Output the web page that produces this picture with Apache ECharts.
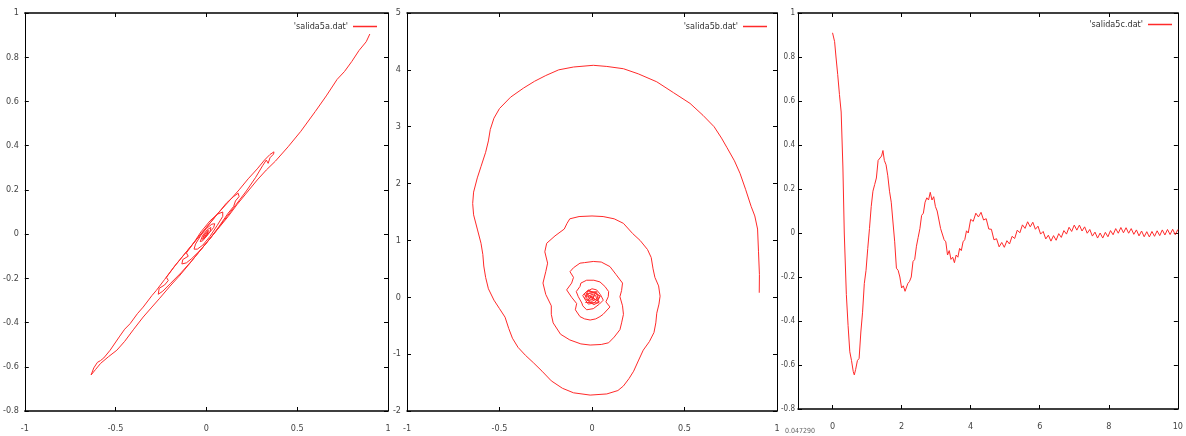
<!DOCTYPE html>
<html><head><meta charset="utf-8">
<script src="https://cdn.jsdelivr.net/npm/echarts@6/dist/echarts.min.js"></script>
<style>html,body{margin:0;padding:0;background:#fff}#c{width:1186px;height:436px}</style>
</head><body><div id="c"></div>
<script>
const seriesNames = ["'salida5a.dat'", "'salida5b.dat'", "'salida5c.dat'"];
const xTicksA = [-1, -0.5, 0, 0.5, 1];
const yTicksA = [-0.8, -0.6, -0.4, -0.2, 0, 0.2, 0.4, 0.6, 0.8, 1];
const xTicksB = [-1, -0.5, 0, 0.5, 1];
const yTicksB = [-2, -1, 0, 1, 2, 3, 4, 5];
const xTicksC = [0, 2, 4, 6, 8, 10];
const yTicksC = [-0.8, -0.6, -0.4, -0.2, 0, 0.2, 0.4, 0.6, 0.8, 1];
const xRangeC = [-1, 10];
const strayNote = '0.047290';

// panel a: delayed phase plot
const pointsA = [
[0.9,0.905],[0.905,0.91],[0.91,0.9],[0.88,0.87],[0.84,0.83],[0.8,0.78],[0.76,0.735],[0.72,0.7],[0.66,0.625],[0.6,0.555],[0.52,0.465],[0.45,0.395],[0.38,0.33],[0.33,0.29],[0.28,0.245],[0.23,0.195],[0.17,0.135],[0.12,0.08],[0.06,0.02],[0,-0.04],[-0.05,-0.09],[-0.094,-0.135],[-0.15,-0.19],[-0.2,-0.235],[-0.257,-0.29],[-0.3,-0.33],[-0.348,-0.375],[-0.4,-0.43],[-0.45,-0.485],[-0.493,-0.525],[-0.54,-0.555],[-0.583,-0.585],[-0.61,-0.612],[-0.635,-0.637],[-0.645,-0.645],
[-0.64,-0.635],[-0.62,-0.605],[-0.6,-0.58],[-0.583,-0.572],[-0.565,-0.56],[-0.53,-0.525],[-0.48,-0.465],[-0.45,-0.43],[-0.42,-0.405],[-0.38,-0.36],[-0.348,-0.33],[-0.3,-0.278],[-0.276,-0.255],[-0.23,-0.205],[-0.18,-0.15],[-0.12,-0.09],[-0.06,-0.03],[0,0.03],[0.06,0.09],[0.12,0.145],[0.18,0.2],[0.23,0.25],[0.28,0.295],[0.32,0.335],[0.35,0.36],[0.372,0.372],[0.377,0.375],
[0.37,0.362],[0.35,0.345],[0.34,0.32],[0.33,0.335],[0.31,0.31],[0.27,0.255],[0.22,0.195],[0.16,0.13],[0.1,0.065],[0.04,0.0],[-0.02,-0.06],[-0.08,-0.12],[-0.14,-0.175],[-0.2,-0.225],[-0.24,-0.258],[-0.265,-0.272],[-0.27,-0.265],
[-0.26,-0.245],[-0.23,-0.23],[-0.21,-0.21],[-0.22,-0.195],[-0.17,-0.14],[-0.12,-0.09],[-0.06,-0.03],[0,0.03],[0.06,0.09],[0.11,0.14],[0.15,0.17],[0.175,0.185],[0.185,0.182],
[0.18,0.17],[0.16,0.15],[0.15,0.125],[0.12,0.095],[0.07,0.035],[0.02,-0.02],[-0.03,-0.07],[-0.08,-0.11],[-0.11,-0.13],[-0.135,-0.135],
[-0.13,-0.115],[-0.1,-0.1],[-0.11,-0.085],[-0.07,-0.04],[-0.03,0.01],[0.02,0.06],[0.06,0.09],[0.09,0.1],[0.1,0.1],
[0.09,0.08],[0.06,0.04],[0.02,-0.01],[-0.02,-0.05],[-0.05,-0.068],[-0.068,-0.068],
[-0.06,-0.045],[-0.03,-0.005],[0,0.025],[0.03,0.045],[0.046,0.047],[0.04,0.03],[0.01,0.0],[-0.02,-0.03],[-0.034,-0.034],[-0.02,-0.005],[0.005,0.02],[0.025,0.03],[0.02,0.012],[-0.005,-0.015],[-0.022,-0.024],[-0.012,-0.002],[0.01,0.018],[0.02,0.02],[0.005,-0.003],[-0.015,-0.018],[-0.01,-0.002],[0.01,0.012],[0.005,0.0],[-0.008,-0.01],[0.002,0.004]
];

// panel b: phase-space spiral
const pointsB = [
[0.904,0.08],[0.905,0.4],[0.9,0.8],[0.895,1.2],[0.88,1.43],[0.86,1.6],[0.83,1.9],[0.8,2.18],[0.77,2.4],[0.73,2.63],[0.7,2.8],[0.66,3.0],[0.6,3.2],[0.53,3.41],[0.44,3.6],[0.35,3.79],[0.25,3.93],[0.17,4.02],[0.08,4.06],[0.007,4.08],[-0.1,4.05],[-0.18,4.0],[-0.25,3.9],[-0.31,3.8],[-0.37,3.68],[-0.44,3.52],[-0.5,3.32],[-0.53,3.15],[-0.55,2.95],[-0.56,2.75],[-0.575,2.55],[-0.6,2.3],[-0.62,2.1],[-0.64,1.85],[-0.645,1.65],[-0.64,1.45],[-0.62,1.2],[-0.6,0.95],[-0.59,0.75],[-0.585,0.55],[-0.575,0.35],[-0.56,0.15],[-0.53,-0.05],[-0.5,-0.2],[-0.47,-0.35],[-0.45,-0.55],[-0.43,-0.72],[-0.4,-0.88],[-0.36,-1.02],[-0.317,-1.15],[-0.27,-1.3],[-0.22,-1.47],[-0.16,-1.6],[-0.1,-1.68],[-0.01,-1.72],[0.08,-1.7],[0.14,-1.64],[0.17,-1.56],[0.2,-1.43],[0.225,-1.3],[0.25,-1.12],[0.277,-0.93],[0.31,-0.78],[0.335,-0.62],[0.345,-0.45],[0.35,-0.28],[0.362,-0.12],[0.368,0.02],[0.36,0.2],[0.34,0.35],[0.33,0.5],[0.32,0.7],[0.3,0.84],[0.26,1.0],[0.22,1.12],[0.17,1.3],[0.12,1.38],[0.06,1.42],[0.0,1.43],[-0.07,1.42],[-0.12,1.38],[-0.135,1.3],[-0.15,1.2],[-0.2,1.08],[-0.245,0.95],[-0.255,0.8],[-0.24,0.6],[-0.25,0.45],[-0.265,0.25],[-0.25,0.05],[-0.22,-0.15],[-0.22,-0.3],[-0.21,-0.45],[-0.17,-0.65],[-0.12,-0.75],[-0.06,-0.82],[-0.01,-0.84],[0.05,-0.83],[0.09,-0.8],[0.12,-0.7],[0.151,-0.57],[0.16,-0.45],[0.17,-0.3],[0.165,-0.15],[0.151,0.01],[0.16,0.12],[0.165,0.25],[0.13,0.4],[0.097,0.54],[0.05,0.62],[0.007,0.63],[-0.04,0.61],[-0.065,0.6],[-0.1,0.52],[-0.119,0.45],[-0.1,0.35],[-0.11,0.25],[-0.137,0.13],[-0.11,0.0],[-0.083,-0.11],[-0.09,-0.22],[-0.065,-0.34],[-0.04,-0.38],[-0.01,-0.4],[0.02,-0.38],[0.043,-0.34],[0.06,-0.3],[0.097,-0.17],[0.075,-0.08],[0.088,0.01],[0.09,0.1],[0.07,0.19],[0.043,0.27],[0.01,0.3],[-0.029,0.3],[-0.06,0.25],[-0.065,0.19],[-0.085,0.1],[-0.074,0.01],[-0.055,-0.1],[-0.05,-0.15],[-0.029,-0.22],[0.007,-0.2],[0.04,-0.12],[0.061,-0.05],[0.045,0.05],[0.025,0.13],[0,0.15],[-0.03,0.1],[-0.05,0.03],[-0.035,-0.05],[-0.02,-0.12],[0.01,-0.1],[0.035,-0.03],[0.04,0.03],[0.015,0.08],[-0.015,0.07],[-0.03,0.02],[-0.025,-0.05],[0,-0.07],[0.025,-0.03],[0.02,0.03],[0,0.05],[-0.02,0.02],[-0.015,-0.03],[0.005,-0.04],[0.015,-0.01],[0.01,0.02],[-0.01,0.02],[-0.01,-0.01],[0.005,-0.02],[0.008,0.005],[-0.005,0.01],[-0.003,-0.005],
[0.02,0.09],[-0.025,0.11],[-0.045,0.05],[0.03,-0.06],[0.045,0.02],[-0.02,0.13],[-0.04,-0.02],[0.01,-0.13],[0.04,-0.08],[-0.03,0.06],[0.025,0.1],[0.035,-0.1],[-0.035,-0.09],[0.0,0.02]
];

// panel c: time series
const pointsC = [
[0,0.91],[0.03,0.905],[0.06,0.87],[0.1,0.8],[0.15,0.72],[0.2,0.63],[0.25,0.55],[0.3,0.3],[0.34,0.0],[0.4,-0.28],[0.45,-0.42],[0.5,-0.54],[0.55,-0.58],[0.6,-0.63],[0.63,-0.645],[0.67,-0.62],[0.72,-0.58],[0.77,-0.57],[0.82,-0.45],[0.87,-0.36],[0.92,-0.23],[0.97,-0.17],[1.02,-0.07],[1.07,0.02],[1.12,0.12],[1.17,0.19],[1.22,0.22],[1.27,0.25],[1.32,0.33],[1.37,0.33],[1.42,0.35],[1.46,0.375],[1.5,0.33],[1.55,0.31],[1.6,0.26],[1.65,0.19],[1.7,0.14],[1.75,0.05],[1.8,-0.04],[1.85,-0.16],[1.9,-0.17],[1.95,-0.2],[2.0,-0.25],[2.05,-0.24],[2.1,-0.265],[2.13,-0.27],[2.18,-0.23],[2.23,-0.22],[2.28,-0.2],[2.33,-0.13],[2.38,-0.12],[2.43,-0.06],[2.48,-0.02],[2.53,0.02],[2.58,0.08],[2.63,0.09],[2.68,0.14],[2.73,0.16],[2.78,0.15],[2.83,0.185],[2.88,0.15],[2.93,0.165],[2.98,0.12],[3.03,0.1],[3.08,0.1],[3.13,0.02],[3.18,0.02],[3.23,-0.03],[3.28,-0.04],[3.33,-0.1],[3.38,-0.08],[3.43,-0.12],[3.48,-0.11],[3.53,-0.135],[3.58,-0.1],[3.63,-0.11],[3.68,-0.07],[3.73,-0.08],[3.78,-0.04],[3.83,-0.03],[3.88,0.01],[3.93,0.0],
[4.0,0.062],[4.075,0.053],[4.15,0.09],[4.225,0.073],[4.3,0.094],[4.375,0.059],[4.45,0.065],[4.525,0.018],[4.6,0.017],[4.675,-0.031],[4.75,-0.026],[4.825,-0.063],[4.9,-0.043],[4.975,-0.065],[5.05,-0.035],[5.125,-0.05],[5.2,-0.015],[5.275,-0.025],[5.35,0.013],[5.425,0.001],[5.5,0.037],[5.575,0.021],[5.65,0.051],[5.725,0.028],[5.8,0.049],[5.875,0.017],[5.95,0.031],[6.025,-0.005],[6.1,0.007],[6.175,-0.027],[6.25,-0.01],[6.325,-0.037],[6.4,-0.012],[6.475,-0.033],[6.55,-0.003],[6.625,-0.02],[6.7,0.011],[6.775,-0.005],[6.85,0.026],[6.925,0.007],[7.0,0.036],[7.075,0.013],[7.15,0.036],[7.225,0.009],[7.3,0.028],[7.375,-0.001],[7.45,0.016],[7.525,-0.014],[7.6,0.004],[7.675,-0.023],[7.75,0],[7.825,-0.023],[7.9,0.003],[7.975,-0.017],[8.05,0.011],[8.125,-0.008],[8.2,0.02],[8.275,-0.001],[8.35,0.025],[8.425,0.001],[8.5,0.024],[8.575,-0.001],[8.65,0.02],[8.725,-0.006],[8.8,0.014],[8.875,-0.013],[8.95,0.009],[9.025,-0.017],[9.1,0.006],[9.175,-0.018],[9.25,0.007],[9.325,-0.015],[9.4,0.01],[9.475,-0.012],[9.55,0.014],[9.625,-0.009],[9.7,0.016],[9.775,-0.007],[9.85,0.017],[9.925,-0.008],[10.0,0.016]
];

const FONT = "'Liberation Sans Narrow','DejaVu Sans Condensed','Liberation Sans',sans-serif";
const LABEL = '#444';
const RED = '#ff2a2a';

const grids = [
  {left: 20, top: 13, width: 368, height: 398},
  {left: 407, top: 13, width: 370, height: 398},
  {left: 798, top: 13, width: 386, height: 396}
];
const yLabelSize = [9, 9, 8];
const yLabelMargin = [6, 6, 3];

function fmt(v){ return String(Math.round(v * 10000) / 10000); }
function axLine(w){ return {show: true, onZero: false, lineStyle: {color: '#000', width: w}}; }
function tick(){ return {show: true, inside: true, length: 4, lineStyle: {color: '#000', width: 1}}; }

const xAxes = [], yAxes = [];
function addX(gi, ticks, range, custom){
  const min = range ? range[0] : ticks[0], max = range ? range[1] : ticks[ticks.length - 1];
  const base = {type: 'value', gridIndex: gi, min: min, max: max, splitLine: {show: false}};
  if (!custom) base.interval = ticks[1] - ticks[0];
  const tk = tick(); if (custom) tk.customValues = ticks;
  const lb = {show: true, color: LABEL, fontSize: 9, fontFamily: FONT, margin: 13, formatter: fmt};
  if (custom) lb.customValues = ticks;
  xAxes.push(Object.assign({}, base, {position: 'bottom', axisLine: axLine(1.5), axisTick: tk, axisLabel: lb}));
  const tk2 = tick(); if (custom) tk2.customValues = ticks;
  xAxes.push(Object.assign({}, base, {position: 'top', axisLine: axLine(1.5), axisTick: tk2, axisLabel: {show: false}}));
}
function addY(gi, ticks){
  const base = {type: 'value', gridIndex: gi, min: ticks[0], max: ticks[ticks.length - 1], interval: ticks[1] - ticks[0], splitLine: {show: false}};
  yAxes.push(Object.assign({}, base, {position: 'left', axisLine: axLine(1), axisTick: tick(),
    axisLabel: {show: true, color: LABEL, fontSize: yLabelSize[gi], fontFamily: FONT, margin: yLabelMargin[gi], formatter: fmt}}));
  yAxes.push(Object.assign({}, base, {position: 'right', axisLine: axLine(1), axisTick: tick(), axisLabel: {show: false}}));
}
addX(0, xTicksA); addY(0, yTicksA);
addX(1, xTicksB); addY(1, yTicksB);
addX(2, xTicksC, xRangeC, true); addY(2, yTicksC);

const datasets = [pointsA, pointsB, pointsC];
const series = datasets.map((d, i) => ({
  name: seriesNames[i], type: 'line', xAxisIndex: i * 2, yAxisIndex: i * 2,
  data: d, symbol: 'none', showSymbol: false, smooth: false, clip: true, animation: false,
  lineStyle: {color: RED, width: 1}, itemStyle: {color: RED}
}));

const legendRights = [1186 - 377, 1186 - 767, 1186 - 1172];
const legendTops = [22, 22, 20];
const legends = seriesNames.map((n, i) => ({
  data: [{name: n, icon: 'rect'}], right: legendRights[i], top: legendTops[i], align: 'right', orient: 'horizontal',
  itemWidth: 24, itemHeight: 1.5, padding: 0, selectedMode: false,
  itemStyle: {color: RED, borderWidth: 0},
  textStyle: {color: '#333', fontSize: 9, fontFamily: FONT}
}));

const chart = echarts.init(document.getElementById('c'), null, {renderer: 'canvas'});
chart.setOption({
  animation: false,
  backgroundColor: '#fff',
  grid: grids,
  xAxis: xAxes,
  yAxis: yAxes,
  legend: legends,
  series: series,
  graphic: [{type: 'text', left: 785, top: 428, style: {text: strayNote, fontSize: 7, fill: '#666', fontFamily: FONT}}]
});
</script></body></html>
